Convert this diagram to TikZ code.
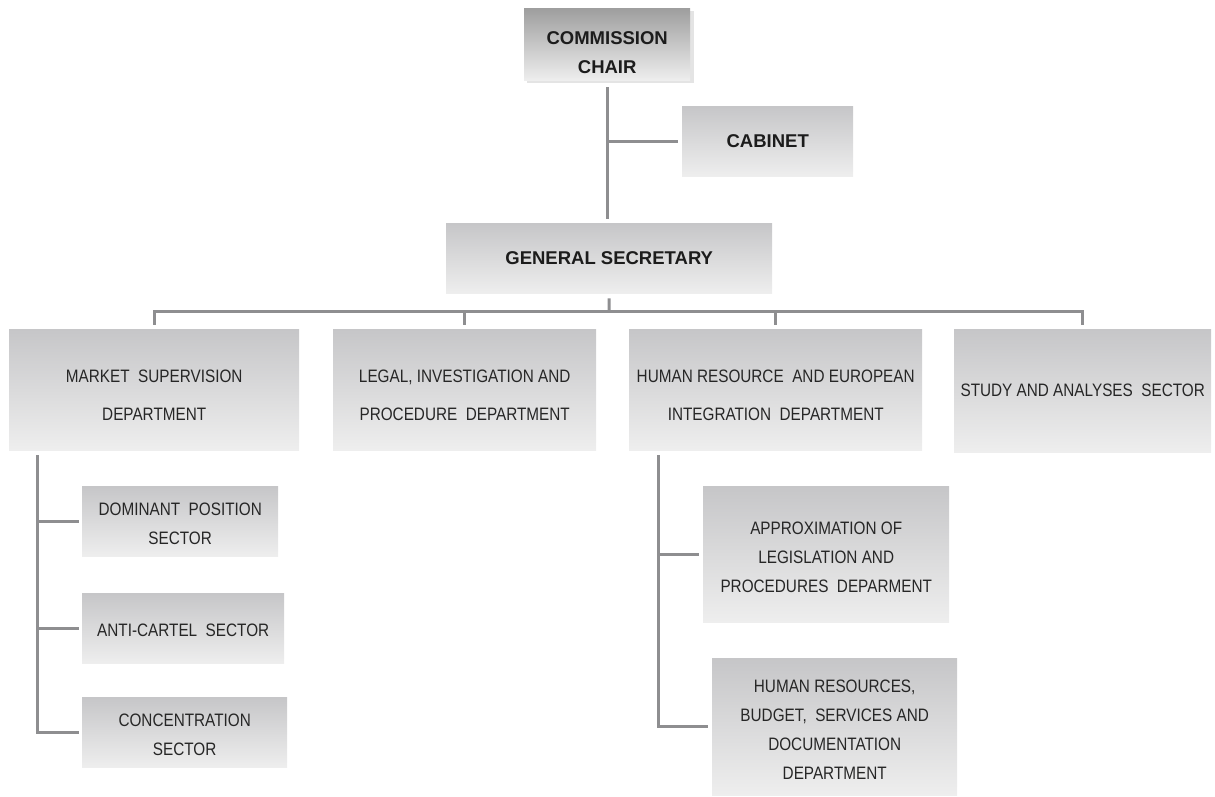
\documentclass[tikz,border=0pt]{standalone}
\usepackage{fontspec}
\setmainfont{Liberation Sans}
\newfontfamily\narrowf[FakeStretch=0.85]{Liberation Sans}
\definecolor{boxtop}{HTML}{C6C6C8}
\definecolor{boxbot}{HTML}{EEEEEE}
\definecolor{chairtop}{HTML}{9E9E9E}
\definecolor{linegray}{HTML}{8E8E90}
\definecolor{txtdark}{HTML}{1C1C1C}
\definecolor{txtmid}{HTML}{262626}
\definecolor{shadowgray}{HTML}{E4E4E4}
\newcommand\txtdown[1]{\rule{0pt}{#1}}
\begin{document}
\begin{tikzpicture}[x=1pt,y=-1pt,
  box/.style={draw=none, top color=boxtop, bottom color=boxbot, inner sep=0pt,
    anchor=north west, align=center, text=txtmid,
    font=\narrowf\fontsize{18}{29}\selectfont},
  widebox/.style={box, font=\narrowf\fontsize{18}{38}\selectfont},
  titlebox/.style={box, text=txtdark, font=\bfseries\fontsize{18.5}{29.5}\selectfont},
  conn/.style={draw=linegray, line width=3pt}]
\useasboundingbox (0,0) rectangle (1215,797);

% shadow of the chair box
\fill[shadowgray] (527,11) rectangle (694,83);

\node[titlebox, top color=chairtop, minimum width=166pt, minimum height=72pt] (chair) at (524,8) {\txtdown{30pt}COMMISSION\\CHAIR};
\node[titlebox, minimum width=171pt, minimum height=70pt] (cabinet) at (682,106) {CABINET};
\node[titlebox, minimum width=326pt, minimum height=70pt] (gs) at (446,223) {GENERAL SECRETARY};

\node[widebox, minimum width=290pt, minimum height=121pt] (ms) at (9,329) {\txtdown{23pt}MARKET\ \ SUPERVISION\\DEPARTMENT};
\node[widebox, minimum width=263pt, minimum height=121pt] (legal) at (333,329) {\txtdown{23pt}LEGAL, INVESTIGATION AND\\PROCEDURE\ \ DEPARTMENT};
\node[widebox, minimum width=293pt, minimum height=121pt] (hr) at (629,329) {\txtdown{23pt}HUMAN RESOURCE\ \ AND EUROPEAN\\INTEGRATION\ \ DEPARTMENT};
\node[box, minimum width=257pt, minimum height=123pt] (study) at (954,329) {STUDY AND ANALYSES\ \ SECTOR};

\node[box, minimum width=196pt, minimum height=70pt] (dom) at (82,486) {\txtdown{18pt}DOMINANT\ \ POSITION\\SECTOR};
\node[box, minimum width=202pt, minimum height=70pt] (anti) at (82,593) {\txtdown{17pt}ANTI-CARTEL\ \ SECTOR};
\node[box, minimum width=205pt, minimum height=70pt] (conc) at (82,697) {\txtdown{17pt}CONCENTRATION\\SECTOR};

\node[box, minimum width=246pt, minimum height=136pt] (approx) at (703,486) {\txtdown{18pt}APPROXIMATION OF\\LEGISLATION AND\\PROCEDURES\ \ DEPARMENT};
\node[box, minimum width=245pt, minimum height=137pt] (hrb) at (712,658) {\txtdown{19pt}HUMAN RESOURCES,\\BUDGET,\ \ SERVICES AND\\DOCUMENTATION\\DEPARTMENT};

% connectors
\draw[conn, shorten <=7pt, shorten >=4pt] (chair.south) -- (chair.south |- gs.north);
\draw[conn, shorten >=4pt] (chair.south |- cabinet.west) -- (cabinet.west);

\coordinate (bus) at (609,311);
\draw[conn, shorten <=5pt] (gs.south) -- (bus);
\foreach \n in {ms,legal,hr,study}
  \draw[conn, shorten >=4pt] (bus) -| (\n.north);

\coordinate (mstop) at ([xshift=28pt,yshift=-5pt]ms.south west);
\draw[conn, shorten >=3pt] (mstop) |- (conc.west);
\draw[conn, shorten >=3pt] (mstop |- dom.west) -- (dom.west);
\draw[conn, shorten >=3pt] (mstop |- anti.west) -- (anti.west);

\coordinate (hrtop) at ([xshift=29pt,yshift=-5pt]hr.south west);
\draw[conn, shorten >=4pt] (hrtop) |- (hrb.west);
\draw[conn, shorten >=4pt] (hrtop |- approx.west) -- (approx.west);
\end{tikzpicture}
\end{document}
